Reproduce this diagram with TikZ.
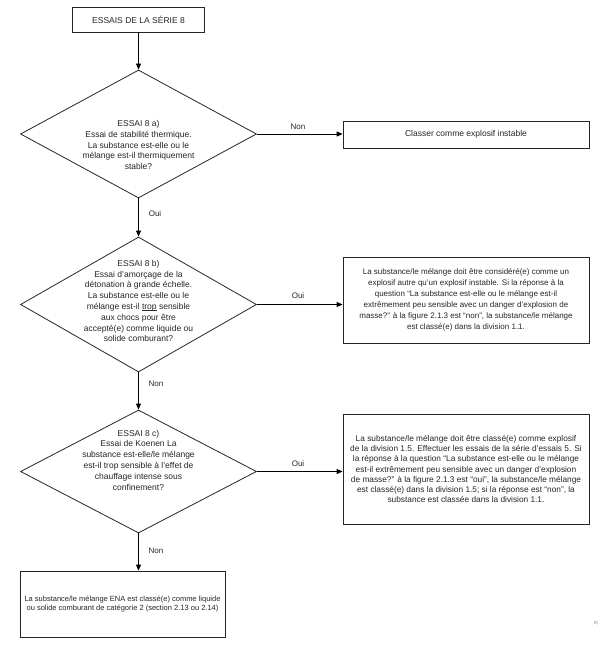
\documentclass[tikz,border=0pt]{standalone}
\usepackage{fontspec}
\setmainfont{Liberation Sans}
\usetikzlibrary{arrows.meta,shapes.geometric}
\newcommand{\myul}[1]{\setbox0\hbox{#1}\rlap{\rule[-1.4pt]{\wd0}{0.45pt}}#1}
\begin{document}
\begin{tikzpicture}[x=1pt,y=-1pt,
  rbox/.style={draw=black!85, line width=0.8pt, inner sep=0pt, align=center, text=black!85},
  dia/.style={draw=black!85, diamond, line width=0.8pt, inner sep=0pt, minimum width=236pt},
  dtext/.style={align=center, inner sep=0pt, font=\fontsize{8.5}{10.8}\selectfont, text=black!85},
  conn/.style={line width=0.8pt, -{Triangle[length=6pt,width=5pt]}},
  lab/.style={font=\fontsize{8}{9}\selectfont, inner sep=0pt, text=black!85}]
\useasboundingbox (0,0) rectangle (603,647);
\fill[white] (0,0) rectangle (603,647);

% top box
\node[rbox, minimum width=132pt, minimum height=25pt, font=\fontsize{8.5}{10}\selectfont] (top) at (138.5,19.5) {ESSAIS DE LA SÉRIE 8};

% diamonds
\node[dia, minimum height=128pt] (d1) at (138.5,134) {};
\node[dtext] (t1) at (138.5,145) {ESSAI 8 a)\\Essai de stabilité thermique.\\La substance est-elle ou le\\mélange est-il thermiquement\\stable?};

\node[dia, minimum height=135pt] (d2) at (138.5,304.5) {};
\node[dtext] (t2) at (138.5,301) {ESSAI 8 b)\\Essai d’amorçage de la\\détonation à grande échelle.\\La substance est-elle ou le\\mélange est-il \myul{trop} sensible\\aux chocs pour être\\accepté(e) comme liquide ou\\solide comburant?};

\node[dia, minimum height=123pt] (d3) at (138.5,471.5) {};
\node[dtext] (t3) at (138.5,460) {ESSAI 8 c)\\Essai de Koenen La\\substance est-elle/le mélange\\est-il trop sensible à l’effet de\\chauffage intense sous\\confinement?};

% right boxes
\node[rbox, minimum width=246pt, minimum height=27pt, font=\fontsize{8.5}{10}\selectfont] (b1) at (466,134.5) {Classer comme explosif instable};

\node[rbox, minimum width=246pt, minimum height=86pt, font=\fontsize{8.0}{11}\selectfont] (b2) at (466,300) {La substance/le mélange doit être considéré(e) comme un\\explosif autre qu’un explosif instable. Si la réponse à la\\question “La substance est-elle ou le mélange est-il\\extrêmement peu sensible avec un danger d’explosion de\\masse?” à la figure 2.1.3 est “non”, la substance/le mélange\\est classé(e) dans la division 1.1.};

\node[rbox, minimum width=246pt, minimum height=110pt, font=\fontsize{8.3}{10.2}\selectfont] (b3) at (466,469) {La substance/le mélange doit être classé(e) comme explosif\\de la division 1.5. Effectuer les essais de la série d’essais 5. Si\\la réponse à la question “La substance est-elle ou le mélange\\est-il extrêmement peu sensible avec un danger d’explosion\\de masse?” à la figure 2.1.3 est “oui”, la substance/le mélange\\est classé(e) dans la division 1.5; si la réponse est “non”, la\\substance est classée dans la division 1.1.};

% bottom box
\node[rbox, minimum width=205pt, minimum height=66pt, font=\fontsize{7.5}{9.5}\selectfont] (b4) at (122.5,604) {La substance/le mélange ENA est classé(e) comme liquide\\ou solide comburant de catégorie 2 (section 2.13 ou 2.14)};

% connectors
\draw[conn] (top.south) -- (d1.north);
\draw[conn] (d1.south) -- (d2.north);
\draw[conn] (d2.south) -- (d3.north);
\draw[conn] (d3.south) -- (d3.south |- b4.north);
\draw[conn] (d1.east) -- (d1.east -| b1.west);
\draw[conn] (d2.east) -- (d2.east -| b2.west);
\draw[conn] (d3.east) -- (d3.east -| b3.west);

% labels
\node[lab] (l1) at (298,127) {Non};
\node[lab] (l2) at (298,295.5) {Oui};
\node[lab] (l3) at (298,464) {Oui};
\node[lab] (l4) at (155,214) {Oui};
\node[lab] (l5) at (156,384) {Non};
\node[lab] (l6) at (156,551) {Non};

% stray mark
\node[font=\fontsize{6}{7}\selectfont, text=black!60, inner sep=0pt] (mk) at (596,623) {»;};
\end{tikzpicture}
\end{document}
